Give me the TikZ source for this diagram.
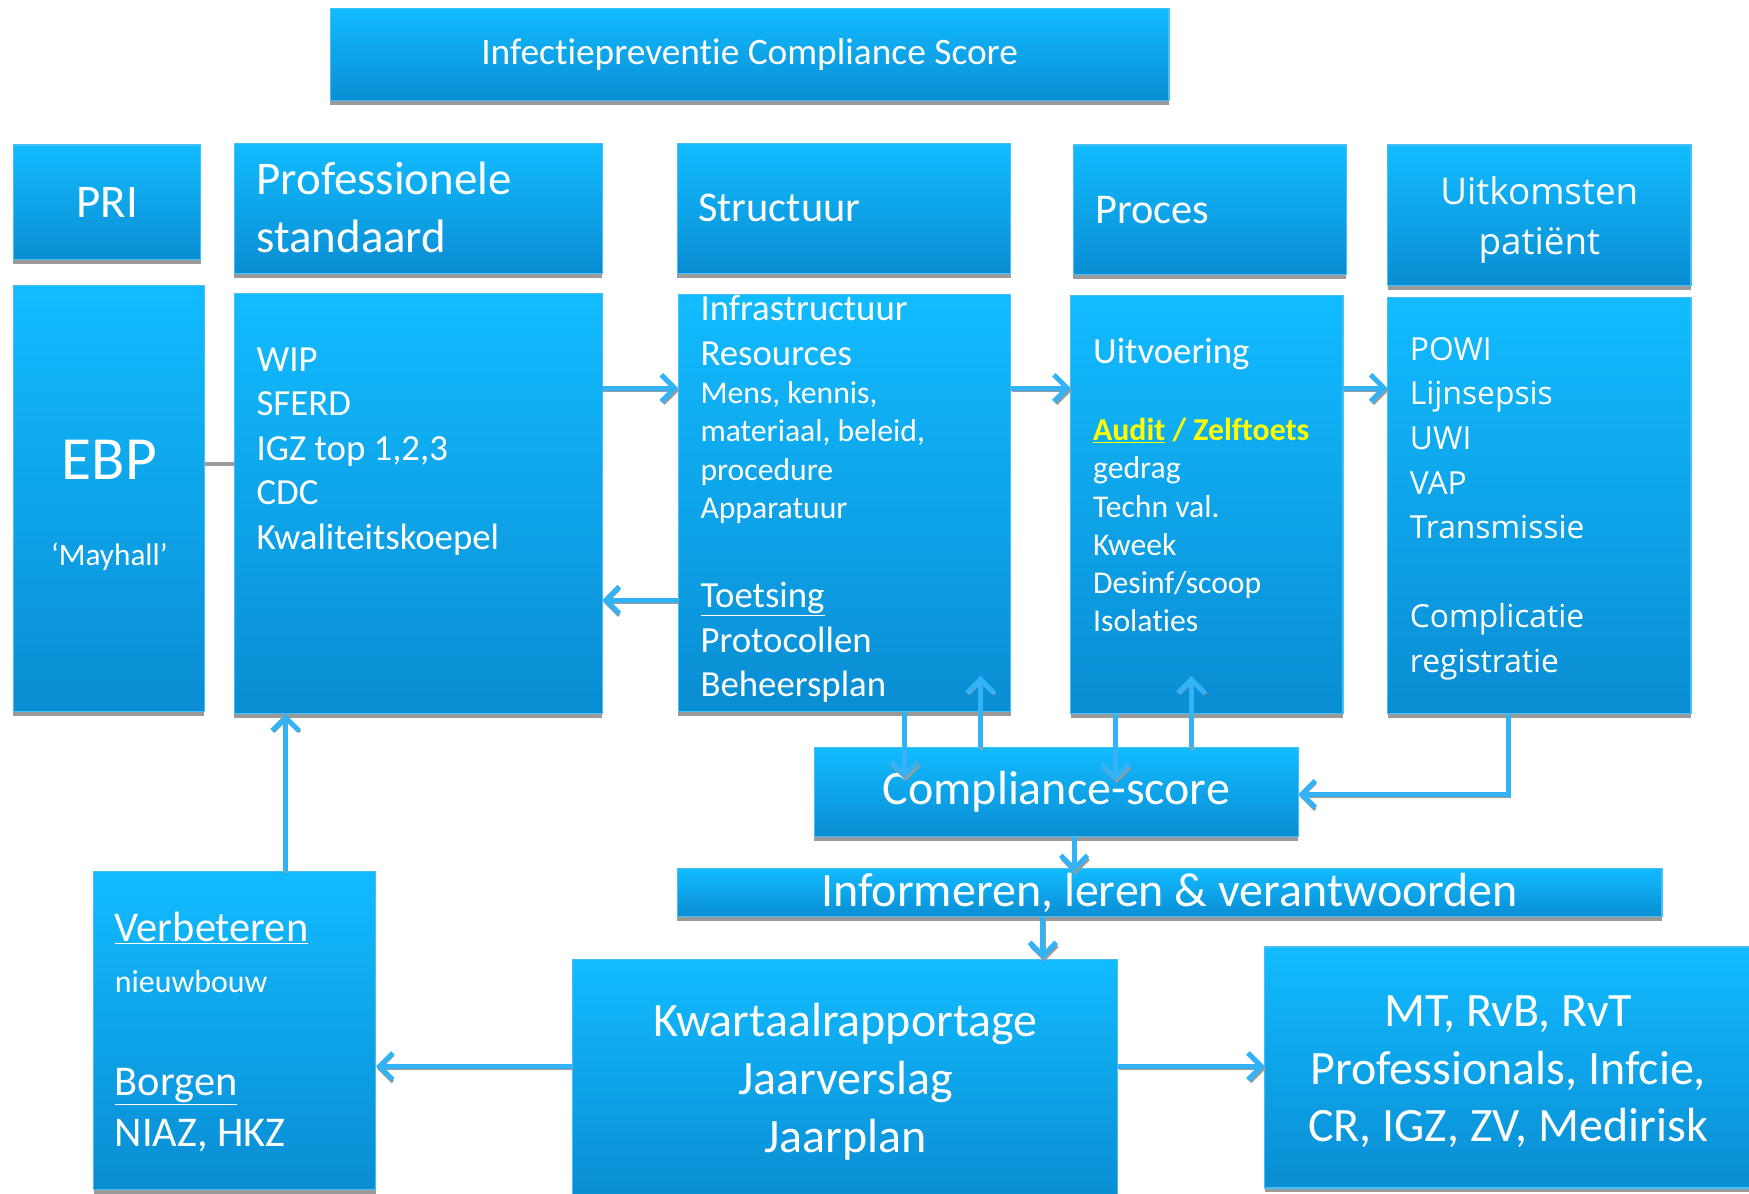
\documentclass[tikz,border=0pt]{standalone}
\usepackage{fontspec}
\setmainfont{Carlito}[Ligatures=NoCommon]
\newfontfamily\osans{Open Sans}
\usetikzlibrary{arrows.meta,shadows}
\definecolor{boxtop}{HTML}{12BBFF}
\definecolor{boxbot}{HTML}{0A8DD3}
\definecolor{boxedge}{HTML}{45C0F5}
\definecolor{arrc}{HTML}{33B3F5}
\definecolor{shd}{HTML}{9A9A9A}
\definecolor{yel}{HTML}{FFFF00}
\newcommand\myfs[1]{\fontsize{#1}{#1}\selectfont}
\tikzset{
 box/.style={draw=boxedge, line width=1pt, top color=boxtop, bottom color=boxbot,
   inner sep=0pt, outer sep=0pt, anchor=north west, text=white,
   drop shadow={shadow xshift=0pt, shadow yshift=-4pt, fill=shd, opacity=1}},
 txt/.style={inner sep=0pt, outer sep=0pt, text=white},
 tl/.style={txt, anchor=base west},
 tc/.style={txt, anchor=base},
 arr/.style={draw=arrc, line width=4.5pt, -{Straight Barb[length=12pt,width=24pt]},
   preaction={draw=shd, line width=3pt, transform canvas={shift={(1pt,-2pt)}}}},
}
\begin{document}
\begin{tikzpicture}[x=1pt,y=-1pt]
\useasboundingbox (0,0) rectangle (1568,1070);
% boxes
\node[box, minimum width=752pt, minimum height=82pt, font=\myfs{33.5}] (title) at (296,8) {Infectiepreventie Compliance Score};
\node[box, minimum width=168pt, minimum height=103pt, font=\myfs{42}] (pri) at (12,130) {PRI};
\node[box, minimum width=330pt, minimum height=116pt] (profh) at (210,129) {};
\node[box, minimum width=299pt, minimum height=116pt] (strh) at (607,129) {};
\node[box, minimum width=245pt, minimum height=116pt] (proch) at (962,130) {};
\node[box, minimum width=272pt, minimum height=126pt] (uith) at (1244,130) {};
\node[box, minimum width=171pt, minimum height=382pt] (ebp) at (12,256) {};
\node[box, minimum width=330pt, minimum height=377pt] (profb) at (210,263) {};
\node[box, minimum width=298pt, minimum height=374pt] (strb) at (608,264) {};
\node[box, minimum width=244pt, minimum height=375pt] (procb) at (960,265) {};
\node[box, minimum width=272pt, minimum height=373pt] (uitb) at (1244,267) {};
\node[box, minimum width=434pt, minimum height=80pt, font=\myfs{43}] (comp) at (730,670) {Compliance-score};
\node[box, minimum width=883pt, minimum height=43pt, font=\myfs{43}] (info) at (607,779) {Informeren, leren \& verantwoorden};
\node[box, minimum width=253pt, minimum height=285pt] (verb) at (84,781) {};
\node[box, minimum width=489pt, minimum height=215pt] (kwart) at (513,860) {};
\node[box, minimum width=440pt, minimum height=216pt] (mt) at (1134,849) {};

% header texts
\node[tl, font=\myfs{42}] (ph1) at (230,174.5) {Professionele};
\node[tl, font=\myfs{42}] (ph2) at (230,226.5) {standaard};
\node[tl, font=\myfs{38}] (sh) at (626,199) {Structuur};
\node[tl, font=\myfs{38}] (prh) at (982,200) {Proces};
\node[tc, font=\osans\myfs{33}] (uh1) at (1380,183) {Uitkomsten};
\node[tc, font=\osans\myfs{33}] (uh2) at (1380,228) {patiënt};

% EBP
\node[tc, font=\myfs{55}] (ebpt) at (98,430) {EBP};
\node[tc, font=\myfs{28}] (may) at (98,507) {‘Mayhall’};

% professionele standaard body
\node[tl, font=\myfs{33}] (p1) at (230,332.7) {WIP};
\node[tl, font=\myfs{33}] (p2) at (230,372.7) {SFERD};
\node[tl, font=\myfs{33}] (p3) at (230,412.7) {IGZ top 1,2,3};
\node[tl, font=\myfs{33}] (p4) at (230,452.7) {CDC};
\node[tl, font=\myfs{33}] (p5) at (230,492.7) {Kwaliteitskoepel};

% structuur body
\node[tl, font=\myfs{33}] (s1) at (628,287.7) {Infrastructuur};
\node[tl, font=\myfs{33}] (s2) at (628,327.7) {Resources};
\node[tl, font=\myfs{28.4}] (s3) at (628,362) {Mens, kennis,};
\node[tl, font=\myfs{28.4}] (s4) at (628,396) {materiaal, beleid,};
\node[tl, font=\myfs{28.4}] (s5) at (628,431) {procedure};
\node[tl, font=\myfs{28.4}] (s6) at (628,465) {Apparatuur};
\node[tl, font=\myfs{33}] (s7) at (628,544.7) {\underline{Toetsing}};
\node[tl, font=\myfs{33}] (s8) at (628,584.7) {Protocollen};
\node[tl, font=\myfs{33}] (s9) at (628,624.7) {Beheersplan};

% proces body
\node[tl, font=\myfs{33}] (r1) at (980,325.7) {Uitvoering};
\node[tl, font=\myfs{28.5}\bfseries, text=yel] (r2) at (980,395) {\underline{Audit} / Zelftoets};
\node[tl, font=\myfs{28.4}] (r3) at (980,429) {gedrag};
\node[tl, font=\myfs{28.4}] (r4) at (980,464) {Techn val.};
\node[tl, font=\myfs{28.4}] (r5) at (980,498) {Kweek};
\node[tl, font=\myfs{28.4}] (r6) at (980,532) {Desinf/scoop};
\node[tl, font=\myfs{28.4}] (r7) at (980,566) {Isolaties};

% uitkomsten body
\node[tl, font=\osans\myfs{28.5}] (u1) at (1264,323) {POWI};
\node[tl, font=\osans\myfs{28.5}] (u2) at (1264,363) {Lijnsepsis};
\node[tl, font=\osans\myfs{28.5}] (u3) at (1264,403) {UWI};
\node[tl, font=\osans\myfs{28.5}] (u4) at (1264,443) {VAP};
\node[tl, font=\osans\myfs{28.5}] (u5) at (1264,483) {Transmissie};
\node[tl, font=\osans\myfs{28.5}] (u6) at (1264,563) {Complicatie};
\node[tl, font=\osans\myfs{28.5}] (u7) at (1264,603) {registratie};

% verbeteren
\node[tl, font=\myfs{38}] (v1) at (103,844) {\underline{Verbeteren}};
\node[tl, font=\myfs{28.6}] (v2) at (103,890) {nieuwbouw};
\node[tl, font=\myfs{38}] (v3) at (103,982) {\underline{Borgen}};
\node[tl, font=\myfs{38}] (v4) at (103,1028) {NIAZ, HKZ};

% kwartaal
\node[tc, font=\myfs{43}] (k1) at (758,929) {Kwartaalrapportage};
\node[tc, font=\myfs{43}] (k2) at (758,981) {Jaarverslag};
\node[tc, font=\myfs{43}] (k3) at (758,1033) {Jaarplan};

% MT
\node[tc, font=\myfs{43}] (m1) at (1352,920) {MT, RvB, RvT};
\node[tc, font=\myfs{43}] (m2) at (1352,972) {Professionals, Infcie,};
\node[tc, font=\myfs{43}] (m3) at (1352,1023) {CR, IGZ, ZV, Medirisk};

% helper coordinates
\coordinate (yA) at (0,348);
\coordinate (yB) at (0,538);
\coordinate (yE) at (0,416);
\coordinate (yC) at (0,712);
\coordinate (yK) at (0,956);
\coordinate (x1) at (811,0);
\coordinate (x2) at (879,0);
\coordinate (x3) at (1000,0);
\coordinate (x4) at (1068,0);
\coordinate (x5) at (1352,0);
\coordinate (x6) at (963,0);
\coordinate (x7) at (935,0);
\coordinate (x8) at (256,0);

% connectors
\draw[shd, line width=3pt] (ebp.east |- yE) -- (profb.west |- yE);
\draw[arr] (profb.east |- yA) -- (strb.west |- yA);
\draw[arr] (strb.west |- yB) -- (profb.east |- yB);
\draw[arr] (strb.east |- yA) -- (procb.west |- yA);
\draw[arr] (procb.east |- yA) -- (uitb.west |- yA);
\draw[arr, shorten >=-28pt] (strb.south -| x1) -- (comp.north -| x1);
\draw[arr, shorten >=-32pt] (comp.north -| x2) -- (strb.south -| x2);
\draw[arr, shorten >=-30pt] (procb.south -| x3) -- (comp.north -| x3);
\draw[arr, shorten >=-34pt] (comp.north -| x4) -- (procb.south -| x4);
\draw[arr] (uitb.south -| x5) |- (comp.east |- yC);
\draw[arr, shorten >=-3pt] (comp.south -| x6) -- (info.north -| x6);
\draw[arr] (info.south -| x7) -- (kwart.north -| x7);
\draw[arr] (kwart.west |- yK) -- (verb.east |- yK);
\draw[arr] (kwart.east |- yK) -- (mt.west |- yK);
\draw[arr] (verb.north -| x8) -- (profb.south -| x8);
\end{tikzpicture}
\end{document}
